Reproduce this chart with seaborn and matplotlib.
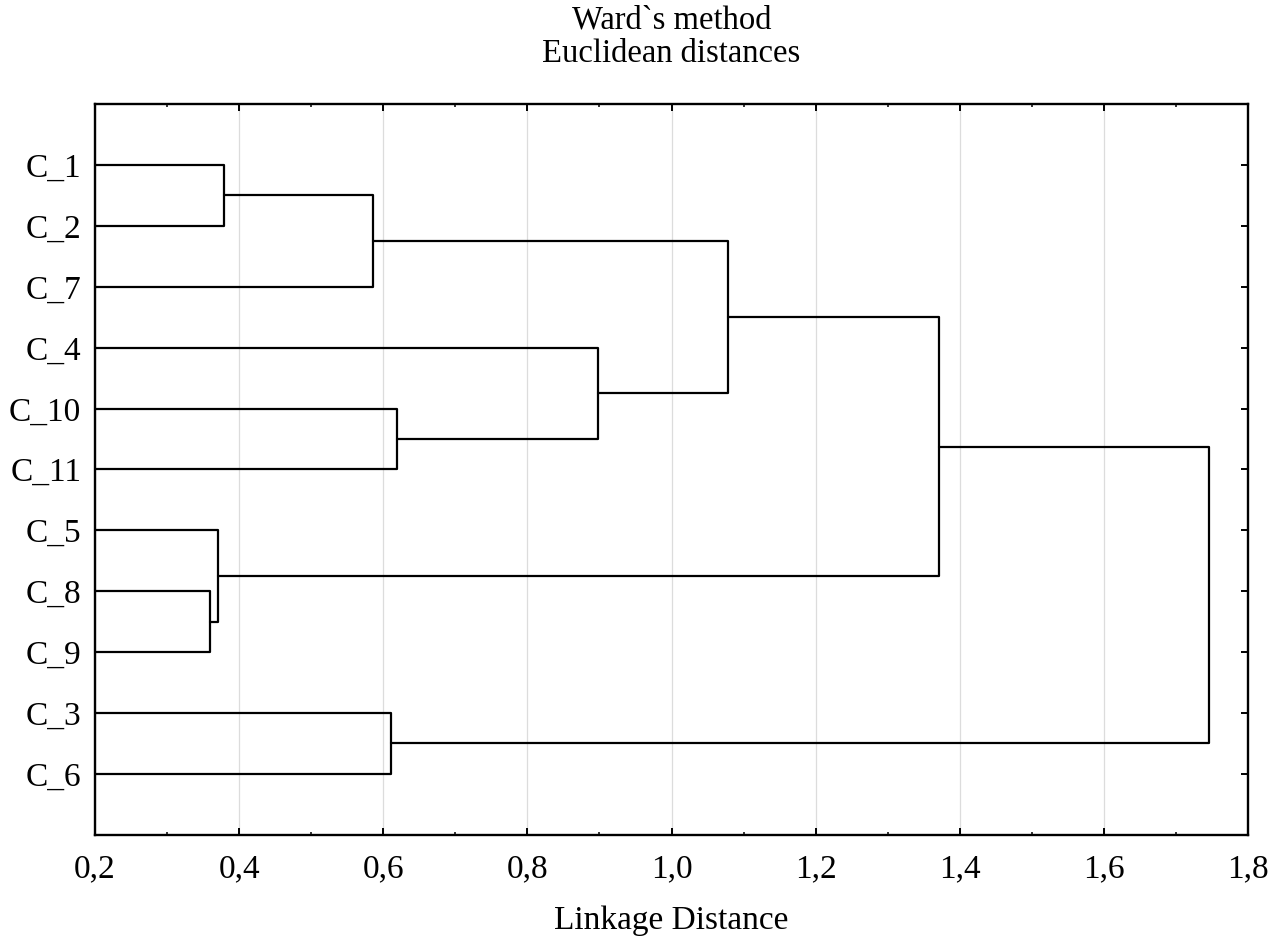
import matplotlib
matplotlib.use("Agg")
import matplotlib.pyplot as plt
from matplotlib.ticker import MultipleLocator, FuncFormatter
import numpy as np
import pandas as pd
import seaborn as sns

# Leaf order along the vertical axis (top to bottom)
leaves = ["C_1", "C_2", "C_7", "C_4", "C_10", "C_11", "C_5", "C_8", "C_9", "C_3", "C_6"]

# Agglomeration steps: (first child, second child); "mN" refers to merge N
merge_left = ["C_1", "m0", "C_10", "C_4", "m1", "C_8", "C_5", "m4", "C_3", "m7"]
merge_right = ["C_2", "C_7", "C_11", "m2", "m3", "C_9", "m5", "m6", "C_6", "m8"]
# Linkage distance at which each merge happens
merge_height = [0.379, 0.586, 0.619, 0.898, 1.078, 0.360, 0.371, 1.371, 0.611, 1.746]

sns.set_theme(style="white")
plt.rcParams["font.family"] = ["Liberation Serif", "DejaVu Serif"]

# Position/height of every node in the tree
pos = {name: float(i) for i, name in enumerate(leaves)}
height = {name: 0.0 for name in leaves}
rows = []
for k, (a, b, h) in enumerate(zip(merge_left, merge_right, merge_height)):
    path_x = [height[a], h, h, height[b]]
    path_y = [pos[a], pos[a], pos[b], pos[b]]
    for order, (px, py) in enumerate(zip(path_x, path_y)):
        rows.append({"link": k, "order": order, "dist": px, "pos": py})
    name = f"m{k}"
    pos[name] = (pos[a] + pos[b]) / 2
    height[name] = h
segments = pd.DataFrame(rows)

fig = plt.figure(figsize=(12.84, 9.38), dpi=100)
ax = fig.add_axes([0.074, 0.110, 0.898, 0.779])

sns.lineplot(data=segments, x="dist", y="pos", units="link", estimator=None,
             sort=False, color="black", linewidth=1.6, ax=ax, legend=False)

ax.set_xlim(0.2, 1.8)
ax.set_ylim(len(leaves), -1)
ax.xaxis.set_major_locator(MultipleLocator(0.2))
ax.xaxis.set_minor_locator(MultipleLocator(0.1))
ax.xaxis.set_major_formatter(FuncFormatter(lambda v, _: f"{v:.1f}".replace(".", ",")))
ax.set_yticks(range(len(leaves)))
ax.set_yticklabels(leaves)

ax.grid(axis="x", which="major", color="#dcdcdc", linewidth=0.9)
ax.set_axisbelow(True)

ax.tick_params(axis="x", which="major", direction="in", length=5, width=1.4,
               top=True, bottom=True, labelsize=24, pad=14, colors="black")
ax.tick_params(axis="x", which="minor", direction="in", length=2.5, width=1.3,
               top=True, bottom=True)
ax.tick_params(axis="y", which="major", direction="in", length=5, width=1.4,
               left=True, right=True, labelsize=24, pad=10, colors="black")
for s in ax.spines.values():
    s.set_visible(True)
    s.set_color("black")
    s.set_linewidth(1.7)

ax.set_xlabel("Linkage Distance", fontsize=24, labelpad=15, color="black")
ax.set_ylabel("")
ax.set_title("Ward`s method\nEuclidean distances", fontsize=23.5, pad=30,
             color="black", linespacing=1.15)

fig.savefig("out.png", dpi=100)
